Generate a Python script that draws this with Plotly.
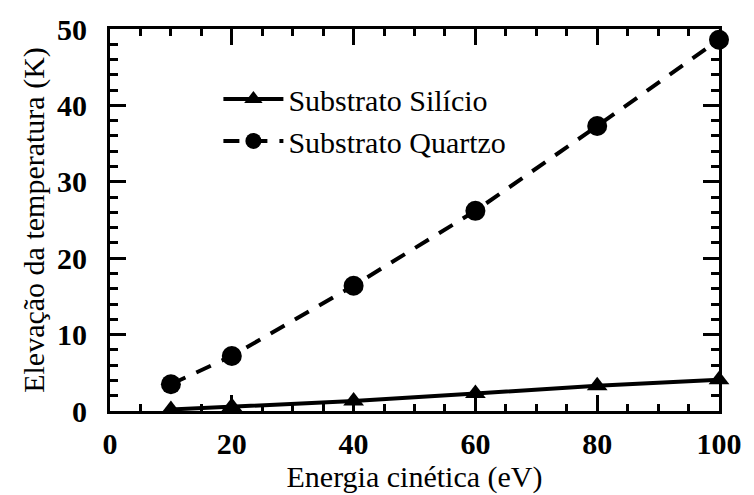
import plotly.graph_objects as go

energia = [10, 20, 40, 60, 80, 100]
silicio = [0.2, 0.6, 1.3, 2.3, 3.3, 4.1]
quartzo = [3.5, 7.2, 16.4, 26.2, 37.3, 48.6]

x_ticks = [0, 20, 40, 60, 80, 100]
y_ticks = [0, 10, 20, 30, 40, 50]

FONT = "Liberation Serif"

fig = go.Figure()
fig.add_trace(go.Scatter(
    x=energia, y=silicio, name="Substrato Silício", mode="lines+markers",
    line=dict(color="black", width=4),
    marker=dict(symbol="triangle-up", size=18, color="black"),
    cliponaxis=False,
))
fig.add_trace(go.Scatter(
    x=energia, y=quartzo, name="Substrato Quartzo", mode="lines+markers",
    line=dict(color="black", width=4, dash="16px,12px"),
    marker=dict(symbol="circle", size=20, color="black"),
    cliponaxis=False,
))

axis_common = dict(
    showline=True, linecolor="black", linewidth=3, mirror="ticks",
    ticks="inside", tickcolor="black", tickwidth=3, ticklen=16,
    showgrid=False, zeroline=False,
    tickfont=dict(family=FONT, size=30, color="black", weight="bold"),
)

fig.update_xaxes(
    range=[0, 100], tickmode="array", tickvals=x_ticks,
    minor=dict(ticks="inside", dtick=5, ticklen=7, tickwidth=3, tickcolor="black"),
    title=dict(text="Energia cinética (eV)", font=dict(family=FONT, size=30, color="black"), standoff=2),
    ticklabelstandoff=4,
    **axis_common,
)
fig.update_yaxes(
    range=[0, 50], tickmode="array", tickvals=y_ticks,
    minor=dict(ticks="inside", dtick=2, ticklen=8, tickwidth=3, tickcolor="black"),
    title=dict(text="Elevação da temperatura (K)", font=dict(family=FONT, size=30, color="black"), standoff=4),
    ticklabelstandoff=14,
    **axis_common,
)

fig.update_layout(
    width=754, height=495,
    margin=dict(l=110, r=27, t=25, b=77),
    paper_bgcolor="white", plot_bgcolor="white",
    showlegend=True,
    legend=dict(
        x=0.178, y=0.885, xanchor="left", yanchor="top",
        bgcolor="rgba(0,0,0,0)", borderwidth=0,
        font=dict(family=FONT, size=30, color="black"),
        itemwidth=60, tracegroupgap=0,
    ),
)

fig.write_html("out.html")
